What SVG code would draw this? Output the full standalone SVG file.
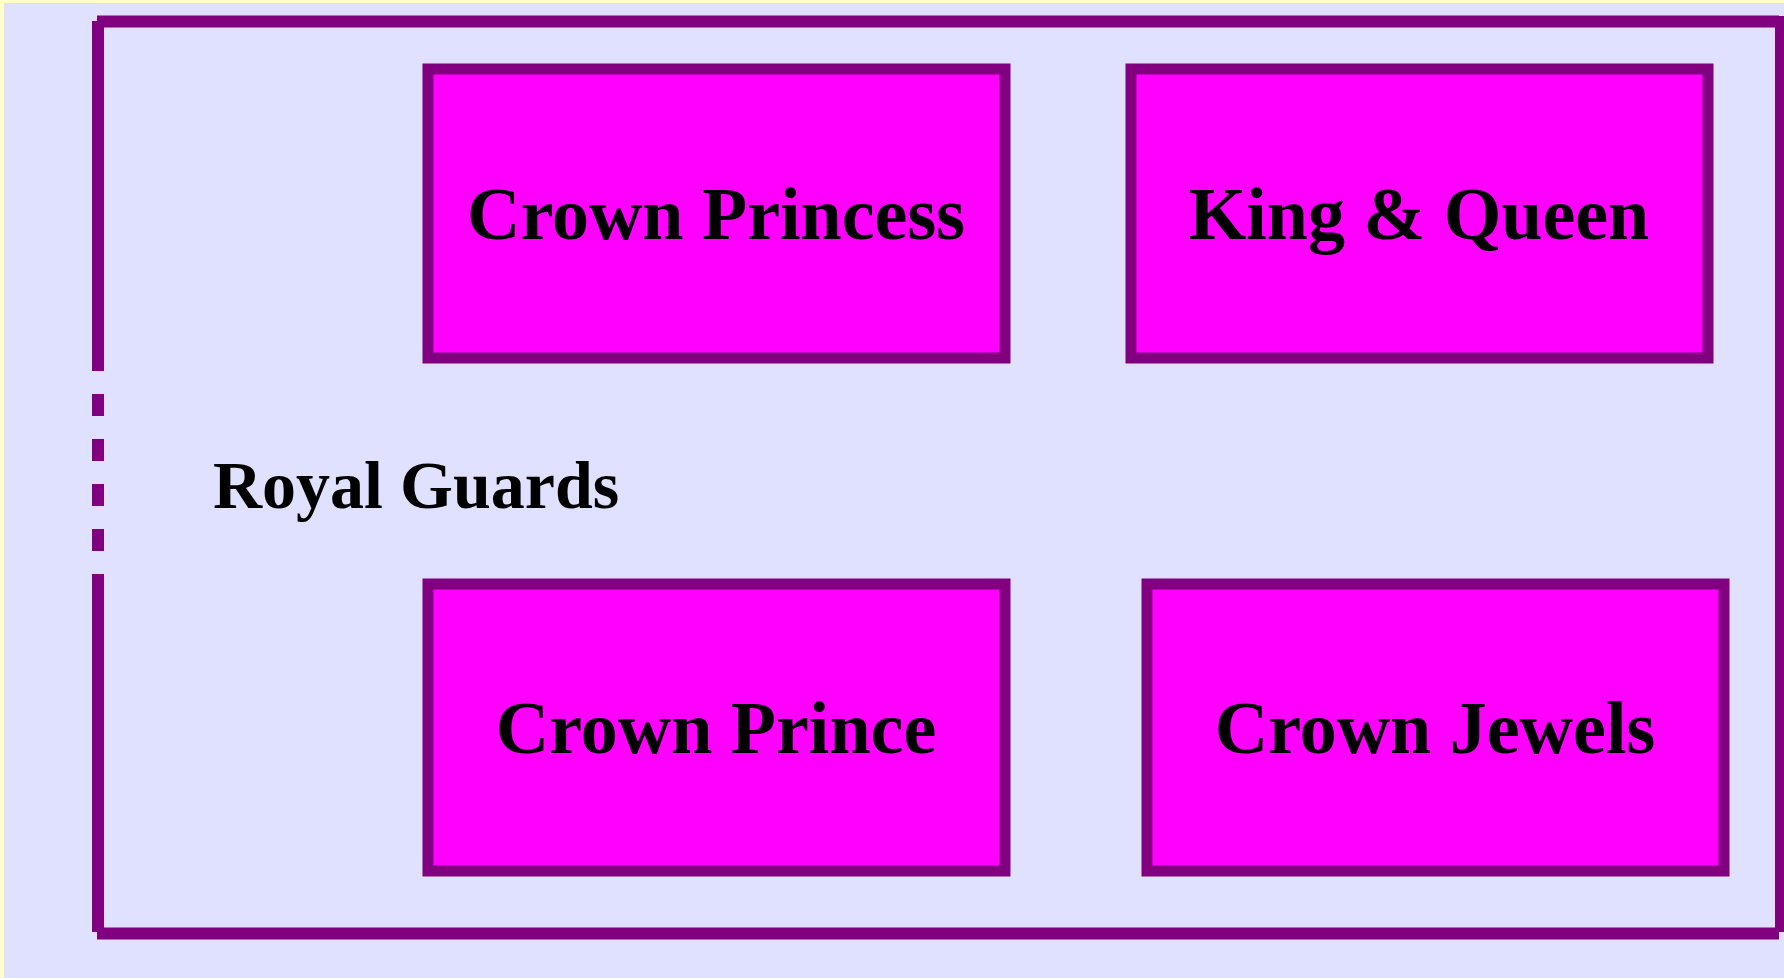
<svg xmlns="http://www.w3.org/2000/svg" width="1784" height="978" viewBox="0 0 1784 978">
  <style>
    .frame { stroke: #800080; stroke-width: 12; fill: none; stroke-linecap: butt; }
    .node rect { fill: #FF00FF; stroke: #800080; stroke-width: 11; }
    .node text, .label { font-family: "Liberation Serif", "Times New Roman", serif; font-weight: bold; fill: #000000; }
    .node text { font-size: 74px; text-anchor: middle; }
    .label { font-size: 68px; }
  </style>
  <rect x="0" y="0" width="1784" height="978" fill="#FFFFCC"/>
  <rect x="4" y="3" width="1780" height="975" fill="#E0E0FF"/>
  <g id="royal-guards">
    <line class="frame" x1="97" y1="21.5" x2="1779" y2="21.5"/>
    <line class="frame" x1="1781" y1="16" x2="1781" y2="932"/>
    <line class="frame" x1="97" y1="933.5" x2="1779" y2="933.5"/>
    <line class="frame" x1="98" y1="21" x2="98" y2="371"/>
    <line class="frame" x1="98" y1="394" x2="98" y2="416"/>
    <line class="frame" x1="98" y1="439" x2="98" y2="461"/>
    <line class="frame" x1="98" y1="484" x2="98" y2="506"/>
    <line class="frame" x1="98" y1="529" x2="98" y2="551"/>
    <line class="frame" x1="98" y1="574" x2="98" y2="932"/>
    <text class="label" x="213" y="508">Royal Guards</text>
  </g>
  <g id="crown-princess" class="node">
    <rect x="428" y="69" width="577" height="289"/>
    <text x="716" y="239">Crown Princess</text>
  </g>
  <g id="king-queen" class="node">
    <rect x="1131" y="69" width="577" height="289"/>
    <text x="1419" y="239">King &amp; Queen</text>
  </g>
  <g id="crown-prince" class="node">
    <rect x="428" y="584" width="577" height="287"/>
    <text x="716" y="753">Crown Prince</text>
  </g>
  <g id="crown-jewels" class="node">
    <rect x="1147" y="584" width="577" height="287"/>
    <text x="1435" y="753">Crown Jewels</text>
  </g>
  <g id="connectors"/>
</svg>
